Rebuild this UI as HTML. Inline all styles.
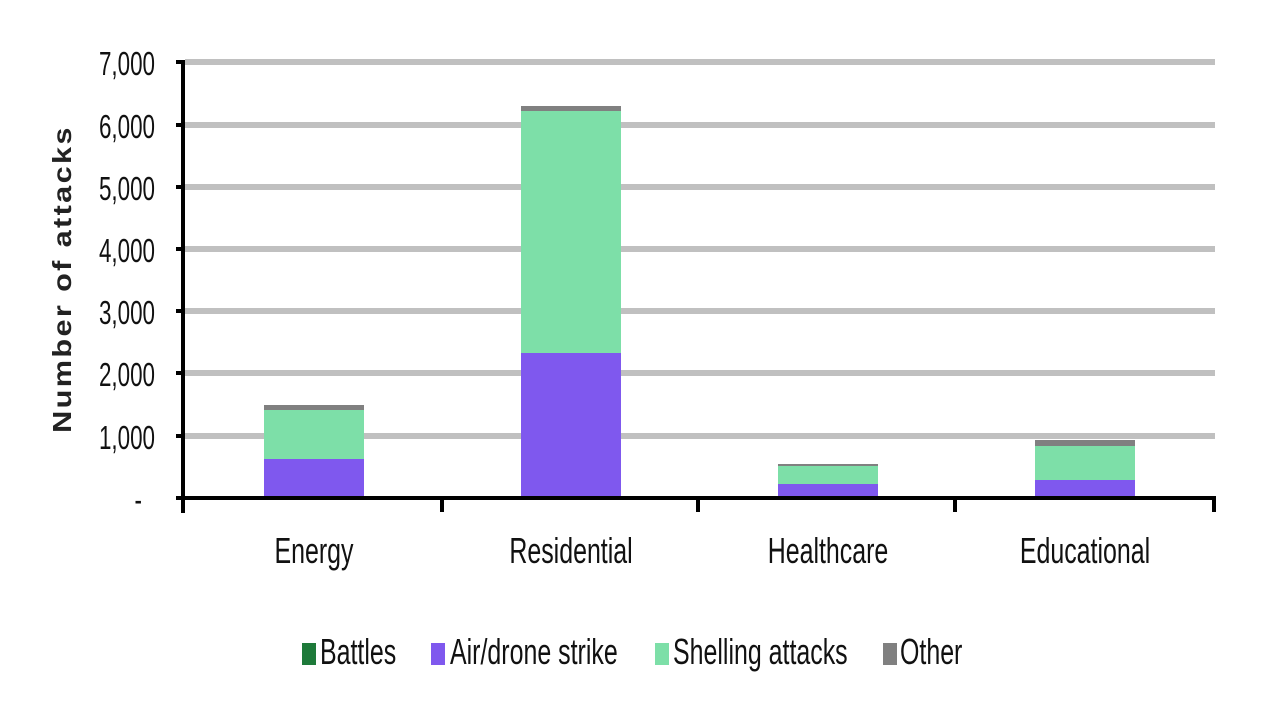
<!DOCTYPE html>
<html><head><meta charset="utf-8"><style>
html,body{margin:0;padding:0;background:#fff;width:1280px;height:720px;overflow:hidden}
svg text{font-family:"Liberation Sans",sans-serif;}
</style></head><body>
<svg width="1280" height="720" viewBox="0 0 1280 720">
<g stroke="#c0c0c0" stroke-width="6">
<line x1="185" y1="62" x2="1215" y2="62"/>
<line x1="185" y1="125" x2="1215" y2="125"/>
<line x1="185" y1="187" x2="1215" y2="187"/>
<line x1="185" y1="249" x2="1215" y2="249"/>
<line x1="185" y1="311" x2="1215" y2="311"/>
<line x1="185" y1="373" x2="1215" y2="373"/>
<line x1="185" y1="436" x2="1215" y2="436"/>
</g>
<rect x="264" y="405" width="100" height="5" fill="#808080"/>
<rect x="264" y="410" width="100" height="49" fill="#7ddfa8"/>
<rect x="264" y="459" width="100" height="39" fill="#7f58ee"/>
<rect x="521" y="106" width="100" height="5" fill="#808080"/>
<rect x="521" y="111" width="100" height="242" fill="#7ddfa8"/>
<rect x="521" y="353" width="100" height="145" fill="#7f58ee"/>
<rect x="778" y="464" width="100" height="2" fill="#808080"/>
<rect x="778" y="466" width="100" height="18" fill="#7ddfa8"/>
<rect x="778" y="484" width="100" height="14" fill="#7f58ee"/>
<rect x="1035" y="440" width="100" height="6" fill="#808080"/>
<rect x="1035" y="446" width="100" height="34" fill="#7ddfa8"/>
<rect x="1035" y="480" width="100" height="18" fill="#7f58ee"/>
<g stroke="#000" stroke-width="4">
<line x1="183" y1="60" x2="183" y2="513"/>
<line x1="181" y1="498" x2="1216" y2="498"/>
<line x1="442" y1="498" x2="442" y2="512"/>
<line x1="698" y1="498" x2="698" y2="512"/>
<line x1="955" y1="498" x2="955" y2="512"/>
<line x1="1214" y1="498" x2="1214" y2="512"/>
<line x1="176" y1="62" x2="183" y2="62"/>
<line x1="176" y1="125" x2="183" y2="125"/>
<line x1="176" y1="187" x2="183" y2="187"/>
<line x1="176" y1="249" x2="183" y2="249"/>
<line x1="176" y1="311" x2="183" y2="311"/>
<line x1="176" y1="373" x2="183" y2="373"/>
<line x1="176" y1="436" x2="183" y2="436"/>
<line x1="176" y1="498" x2="183" y2="498"/>
</g>
<g font-size="28" text-anchor="end" fill="#111">
<text transform="translate(155,75) scale(0.8,1.2)">7,000</text>
<text transform="translate(155,138) scale(0.8,1.2)">6,000</text>
<text transform="translate(155,200) scale(0.8,1.2)">5,000</text>
<text transform="translate(155,262) scale(0.8,1.2)">4,000</text>
<text transform="translate(155,324) scale(0.8,1.2)">3,000</text>
<text transform="translate(155,386) scale(0.8,1.2)">2,000</text>
<text transform="translate(155,449) scale(0.8,1.2)">1,000</text>
<text transform="translate(142,511) scale(0.8,1.2)">-</text>
</g>
<text transform="translate(71,279) rotate(-90) scale(1.18,1)" font-size="26" font-weight="bold" letter-spacing="2" text-anchor="middle" fill="#222">Number of attacks</text>
<g font-size="29" text-anchor="middle" fill="#111">
<text transform="translate(314,563) scale(0.86,1.25)">Energy</text>
<text transform="translate(571,563) scale(0.86,1.25)">Residential</text>
<text transform="translate(828,563) scale(0.86,1.25)">Healthcare</text>
<text transform="translate(1085,563) scale(0.86,1.25)">Educational</text>
</g>
<rect x="302" y="643" width="14" height="22" fill="#1e7a3a"/>
<rect x="431" y="643" width="14" height="22" fill="#7f58ee"/>
<rect x="655" y="643" width="14" height="22" fill="#7ddfa8"/>
<rect x="883" y="643" width="14" height="22" fill="#808080"/>
<g font-size="29" fill="#111">
<text transform="translate(320,664) scale(0.86,1.25)">Battles</text>
<text transform="translate(450,664) scale(0.86,1.25)">Air/drone strike</text>
<text transform="translate(673,664) scale(0.86,1.25)">Shelling attacks</text>
<text transform="translate(900,664) scale(0.86,1.25)">Other</text>
</g>
</svg>
</body></html>
